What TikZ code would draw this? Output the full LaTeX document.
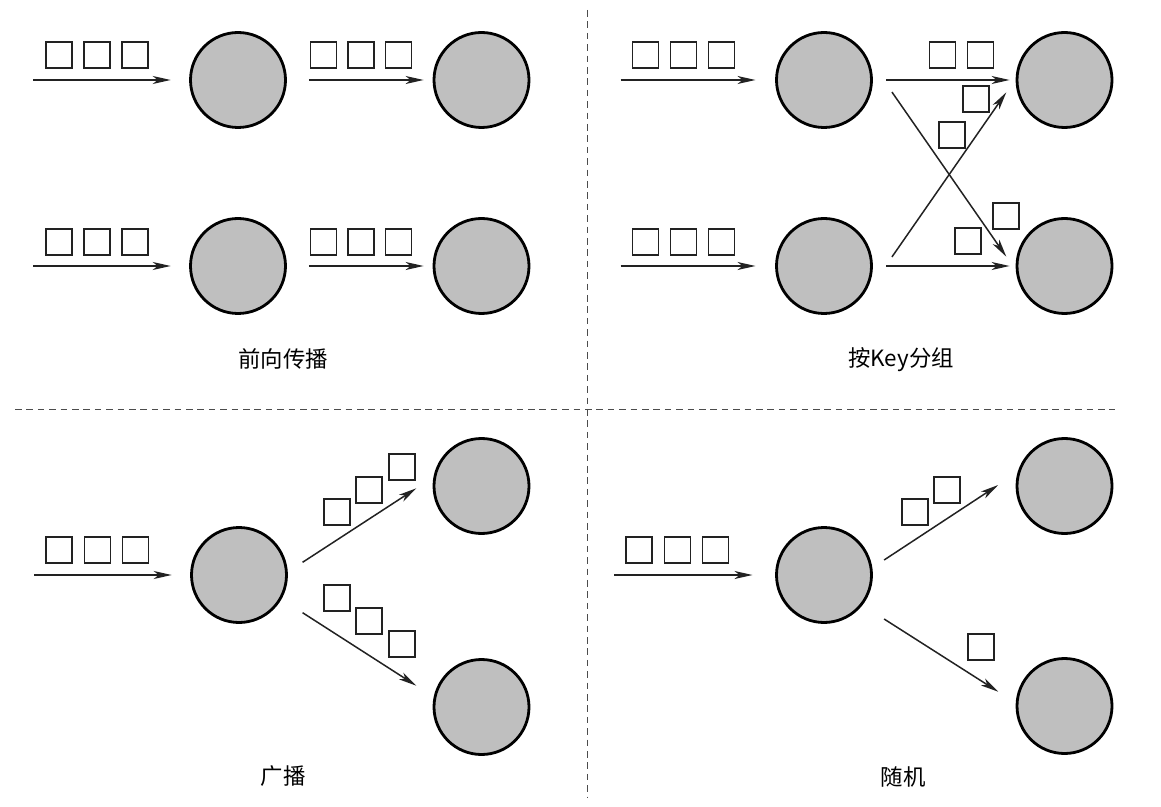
\documentclass[tikz,border=0pt]{standalone}
\usepackage{fontspec}
\setmainfont{Noto Sans CJK SC}
\usepackage{xcolor}
\definecolor{nodegray}{HTML}{BFBFBF}
\definecolor{linegray}{HTML}{222222}
\usetikzlibrary{arrows.meta}

\begin{document}
\begin{tikzpicture}[x=0.5pt, y=-0.5pt,
  proc/.style={circle, draw=black, line width=1.4pt, fill=nodegray, minimum size=47.5pt, inner sep=0pt},
  packet/.style={draw=linegray, line width=0.85pt, minimum size=13pt, inner sep=0pt},
  flow/.style={-{Stealth[length=9pt, width=4pt, inset=2.5pt]}, line width=0.75pt, draw=linegray},
  sep/.style={dash pattern=on 3.3pt off 2.4pt, line width=0.5pt, draw=black!70},
  caption/.style={font=\fontsize{11.2}{13}\selectfont, inner sep=0pt}]
\useasboundingbox (0,0) rectangle (1161,807);

% separators
\draw[sep] (15,409) -- (1115,409);
\draw[sep] (587,10) -- (587,798);

% forward
\node[proc] (f1) at (238,80) {};
\node[proc] (f2) at (481.5,80) {};
\node[proc] (f3) at (238,266) {};
\node[proc] (f4) at (481.5,266) {};
\coordinate (fin1) at (33,80);
\coordinate (fin2) at (33,266);
\draw[flow, shorten >=9.2pt] (fin1) -- (f1);
\draw[flow, shorten >=9.2pt] (fin2) -- (f3);
\draw[flow, shorten <=11pt, shorten >=4.5pt] (f1) -- (f2);
\draw[flow, shorten <=11pt, shorten >=4.5pt] (f3) -- (f4);
\foreach \x [count=\i] in {59.3,97.3,135.3,323.5,361,398.5} {
  \node[packet] (fpa\i) at (\x,55) {};
  \node[packet] (fpb\i) at (\x,241.7) {};
}
\node[caption] (lblf) at (283,358.5) {前向传播};

% key grouping
\node[proc] (k1) at (824,80) {};
\node[proc] (k2) at (1064.5,80) {};
\node[proc] (k3) at (824,266) {};
\node[proc] (k4) at (1064.5,266) {};
\coordinate (kin1) at (620.7,80);
\coordinate (kin2) at (620.7,266);
\draw[flow, shorten >=9.8pt] (kin1) -- (k1);
\draw[flow, shorten >=9.8pt] (kin2) -- (k3);
\draw[flow, shorten <=6.7pt, shorten >=3pt] (k1) -- (k2);
\draw[flow, shorten <=6.7pt, shorten >=3pt] (k3) -- (k4);
\draw[flow] ([shift={(19,12)}]k1.east) -- ([shift={(-9.3,-9.3)}]k4.west);
\draw[flow] ([shift={(19,-9)}]k3.east) -- ([shift={(-9.3,12.3)}]k2.west);
\foreach \x [count=\i] in {645.5,683.5,721.5} {
  \node[packet] (kpa\i) at (\x,55) {};
  \node[packet] (kpb\i) at (\x,241.7) {};
}
\node[packet] (kq1) at (942.5,55) {};
\node[packet] (kq2) at (980.5,55) {};
\node[packet] (kq3) at (975.7,99.2) {};
\node[packet] (kq4) at (952.3,134.7) {};
\node[packet] (kq5) at (1005.7,216.3) {};
\node[packet] (kq6) at (967.7,241.3) {};
\node[caption] (lblk) at (901,360) {按Key分组};

% broadcast
\node[proc] (b1) at (239,575) {};
\node[proc] (b2) at (481.5,486) {};
\node[proc] (b3) at (481.5,707) {};
\coordinate (bin) at (34,575);
\draw[flow, shorten >=9.2pt] (bin) -- (b1);
\draw[flow] ([shift={(14.7,-12.7)}]b1.east) -- ([shift={(-16.3,2.3)}]b2.west);
\draw[flow] ([shift={(14.7,37.7)}]b1.east) -- ([shift={(-16.3,-21.3)}]b3.west);
\foreach \x [count=\i] in {59.3,97.5,135.5} {
  \node[packet] (bp\i) at (\x,550) {};
}
\node[packet] (bq1) at (337,512.3) {};
\node[packet] (bq2) at (369,489.7) {};
\node[packet] (bq3) at (401.7,466.7) {};
\node[packet] (bq4) at (337,597.8) {};
\node[packet] (bq5) at (369,620.7) {};
\node[packet] (bq6) at (401.7,643.7) {};
\node[caption] (lblb) at (283,776) {广播};

% random
\node[proc] (r1) at (824,575) {};
\node[proc] (r2) at (1064.5,486) {};
\node[proc] (r3) at (1064.5,706) {};
\coordinate (rin) at (614,575);
\draw[flow, shorten >=11.3pt] (rin) -- (r1);
\draw[flow] ([shift={(11.2,-15)}]r1.east) -- ([shift={(-17.4,-1)}]r2.west);
\draw[flow] ([shift={(11.2,44)}]r1.east) -- ([shift={(-17.4,-14.3)}]r3.west);
\foreach \x [count=\i] in {639,677.5,715.5} {
  \node[packet] (rp\i) at (\x,550) {};
}
\node[packet] (rq1) at (915.3,512.3) {};
\node[packet] (rq2) at (947.3,489.7) {};
\node[packet] (rq3) at (980.7,647) {};
\node[caption] (lblr) at (903,777) {随机};
\end{tikzpicture}
\end{document}
